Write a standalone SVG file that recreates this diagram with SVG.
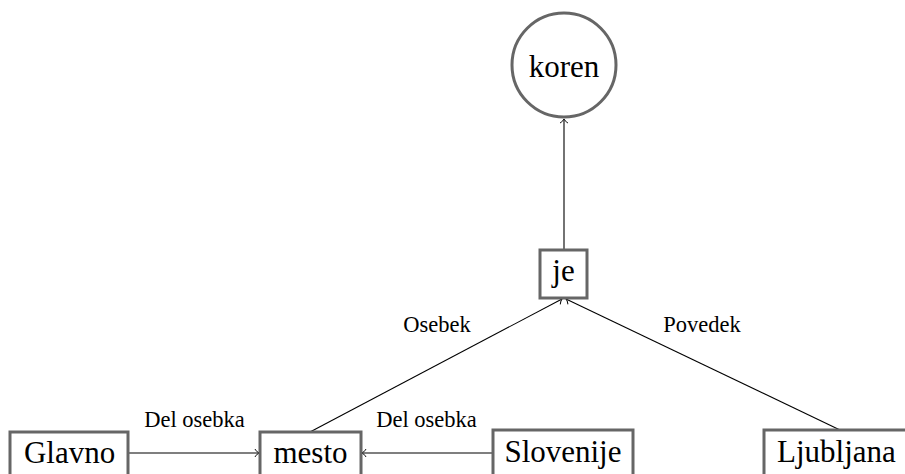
<svg xmlns="http://www.w3.org/2000/svg" width="905" height="474" viewBox="0 0 905 474">
  <defs>
    <marker id="tip" viewBox="-5 -5 6 10" refX="0" refY="0" markerWidth="6" markerHeight="10" markerUnits="userSpaceOnUse" orient="auto">
      <path d="M-3.8,-3.6 C-2.2,-1.3 -0.7,-0.3 0,0 C-0.7,0.3 -2.2,1.3 -3.8,3.6" fill="none" stroke="#000000" stroke-width="1" stroke-linecap="round"/>
    </marker>
  </defs>

  <rect width="905" height="474" fill="#ffffff"/>

  <!-- connectors and their labels -->
  <g id="edges">
    <g fill="none" stroke="#000000" stroke-width="1.1" marker-end="url(#tip)">
      <line x1="564" y1="250" x2="564" y2="119"/>
      <line x1="128" y1="453" x2="259" y2="453"/>
      <line x1="493" y1="453" x2="362" y2="453"/>
      <line x1="310" y1="432" x2="562" y2="299"/>
      <line x1="840" y1="430" x2="566" y2="299"/>
    </g>
    <text x="144.2" y="427" font-size="22.5" font-family="'Liberation Serif'">Del osebka</text>
    <text x="376.2" y="427" font-size="22.5" font-family="'Liberation Serif'">Del osebka</text>
    <text x="403.3" y="332" font-size="22.5" font-family="'Liberation Serif'">Osebek</text>
    <text x="663.3" y="332" font-size="22.5" font-family="'Liberation Serif'">Povedek</text>
  </g>

  <!-- nodes: grey outline, serif label -->
  <g id="nodes">
    <g id="koren">
      <circle cx="564" cy="65" r="52" fill="#ffffff" stroke="#666666" stroke-width="3"/>
      <text x="528.7" y="77" font-size="31" font-family="'Liberation Serif'">koren</text>
    </g>
    <g id="je">
      <rect x="540" y="250" width="47" height="48" fill="#ffffff" stroke="#666666" stroke-width="3"/>
      <text x="552.3" y="281" font-size="31" font-family="'Liberation Serif'">je</text>
    </g>
    <g id="glavno">
      <rect x="10" y="432" width="118" height="44" fill="#ffffff" stroke="#666666" stroke-width="3"/>
      <text x="23.9" y="463" font-size="31" font-family="'Liberation Serif'">Glavno</text>
    </g>
    <g id="mesto">
      <rect x="260" y="432" width="101" height="44" fill="#ffffff" stroke="#666666" stroke-width="3"/>
      <text x="273.5" y="463" font-size="31" font-family="'Liberation Serif'">mesto</text>
    </g>
    <g id="slovenije">
      <rect x="493" y="430" width="140" height="50" fill="#ffffff" stroke="#666666" stroke-width="3"/>
      <text x="504.4" y="462" font-size="31" font-family="'Liberation Serif'">Slovenije</text>
    </g>
    <g id="ljubljana">
      <rect x="764" y="430" width="146" height="50" fill="#ffffff" stroke="#666666" stroke-width="3"/>
      <text x="777" y="462" font-size="31" font-family="'Liberation Serif'">Ljubljana</text>
    </g>
  </g>
</svg>
